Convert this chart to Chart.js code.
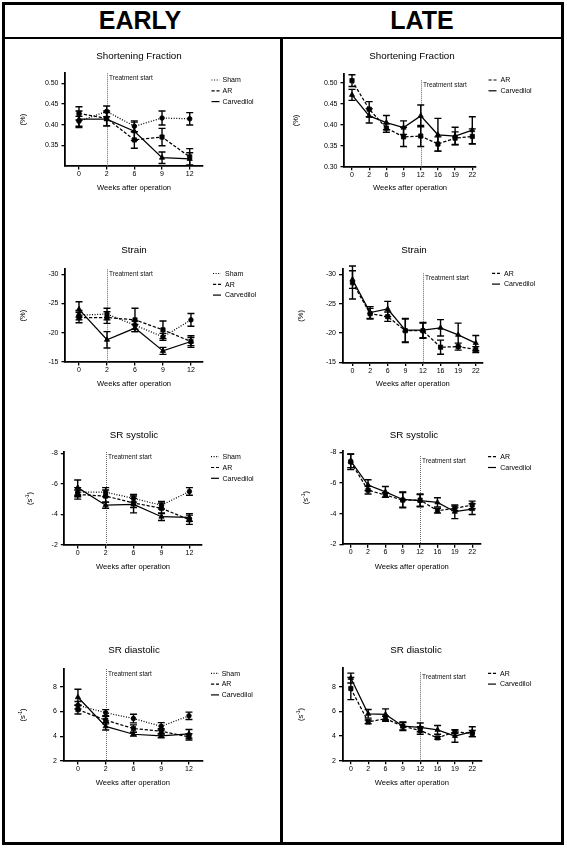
<!DOCTYPE html>
<html><head><meta charset="utf-8">
<script src="https://cdn.jsdelivr.net/npm/chart.js@4.4.1/dist/chart.umd.min.js"></script>
<style>
html,body{margin:0;padding:0;background:#fff;}
#page{position:relative;width:567px;height:848px;overflow:hidden;background:#fff;}
.frame{position:absolute;left:2px;top:2px;width:562px;height:843px;border:3px solid #000;box-sizing:border-box;}
.hline{position:absolute;left:2px;width:562px;top:37px;height:2px;background:#000;}
.vline{position:absolute;left:280px;top:38px;width:3px;height:807px;background:#000;}
.hdr{position:absolute;top:7px;font:bold 25px "Liberation Sans",Arial,sans-serif;text-align:center;width:200px;line-height:26px;color:#000;}
canvas{position:absolute;}
</style></head><body>
<div id="page">
 <div class="frame"></div><div class="hline"></div><div class="vline"></div>
 <div class="hdr" style="left:40px">EARLY</div><div class="hdr" style="left:322px">LATE</div>
</div>
<script>
// ---------- categories ----------
const earlyWeeks = ['0','2','6','9','12'];
const lateWeeks = ['0','2','6','9','12','16','19','22'];
const groupsEarly = ['Sham','AR','Carvedilol'];
const groupsLate = ['AR','Carvedilol'];

// ---------- tick labels ----------
const sfTicksEarly = [0.35, 0.40, 0.45, 0.50];
const sfTicksLate = [0.30, 0.35, 0.40, 0.45, 0.50];
const strainTicks = [-30, -25, -20, -15];
const srsTicks = [-8, -6, -4, -2];
const srdTicks = [2, 4, 6, 8];

// ---------- Shortening Fraction ----------
const sfEarlySham = [0.408, 0.432, 0.396, 0.416, 0.414];
const sfEarlyShamErr = [0.012, 0.013, 0.013, 0.017, 0.015];
const sfEarlyAR = [0.427, 0.415, 0.363, 0.370, 0.322];
const sfEarlyARErr = [0.016, 0.018, 0.020, 0.021, 0.020];
const sfEarlyCarv = [0.413, 0.413, 0.384, 0.320, 0.317];
const sfEarlyCarvErr = [0.020, 0.016, 0.022, 0.014, 0.015];
const sfLateAR = [0.505, 0.437, 0.392, 0.371, 0.373, 0.354, 0.368, 0.372];
const sfLateARErr = [0.014, 0.018, 0.010, 0.023, 0.025, 0.017, 0.015, 0.018];
const sfLateCarv = [0.471, 0.421, 0.405, 0.393, 0.421, 0.376, 0.373, 0.387];
const sfLateCarvErr = [0.013, 0.017, 0.017, 0.016, 0.026, 0.039, 0.021, 0.032];

// ---------- Strain ----------
const stEarlySham = [-23.0, -23.2, -21.3, -19.3, -22.2];
const stEarlyShamErr = [0.8, 1.0, 0.7, 0.6, 1.1];
const stEarlyAR = [-22.6, -22.6, -22.2, -20.5, -18.5];
const stEarlyARErr = [0.9, 1.0, 2.0, 1.5, 0.7];
const stEarlyCarv = [-24.0, -18.8, -20.8, -16.9, -18.5];
const stEarlyCarvErr = [1.3, 1.4, 0.6, 0.6, 1.0];
const stLateAR = [-28.6, -23.3, -22.8, -20.4, -20.4, -17.6, -17.7, -17.2];
const stLateARErr = [2.8, 0.9, 0.8, 2.0, 1.3, 1.2, 0.6, 0.5];
const stLateCarv = [-29.1, -23.5, -24.1, -20.5, -20.5, -20.9, -19.7, -18.3];
const stLateCarvErr = [1.5, 1.0, 1.3, 2.0, 1.3, 1.4, 2.0, 1.3];

// ---------- SR systolic ----------
const ssEarlySham = [-5.45, -5.45, -5.05, -4.6, -5.5];
const ssEarlyShamErr = [0.3, 0.3, 0.25, 0.25, 0.25];
const ssEarlyAR = [-5.3, -5.2, -4.75, -4.4, -3.65];
const ssEarlyARErr = [0.3, 0.4, 0.3, 0.35, 0.3];
const ssEarlyCarv = [-5.75, -4.6, -4.65, -3.85, -3.8];
const ssEarlyCarvErr = [0.5, 0.2, 0.55, 0.25, 0.25];
const ssLateAR = [-7.39, -5.54, -5.22, -4.89, -4.89, -4.2, -4.35, -4.57];
const ssLateARErr = [0.5, 0.25, 0.15, 0.5, 0.4, 0.15, 0.15, 0.25];
const ssLateCarv = [-7.46, -5.87, -5.43, -4.93, -4.85, -4.74, -4.13, -4.3];
const ssLateCarvErr = [0.45, 0.35, 0.35, 0.5, 0.4, 0.3, 0.45, 0.35];

// ---------- SR diastolic ----------
const sdEarlySham = [6.5, 5.9, 5.43, 4.8, 5.65];
const sdEarlyShamErr = [0.3, 0.25, 0.35, 0.3, 0.3];
const sdEarlyAR = [6.15, 5.3, 4.62, 4.4, 3.95];
const sdEarlyARErr = [0.35, 0.3, 0.3, 0.2, 0.25];
const sdEarlyCarv = [7.15, 4.8, 4.16, 4.03, 4.2];
const sdEarlyCarvErr = [0.65, 0.3, 0.15, 0.15, 0.35];
const sdLateAR = [7.85, 5.15, 5.4, 4.8, 4.45, 3.85, 4.35, 4.2];
const sdLateARErr = [0.9, 0.15, 0.2, 0.3, 0.3, 0.1, 0.15, 0.25];
const sdLateCarv = [8.7, 5.8, 5.75, 4.8, 4.7, 4.5, 4.0, 4.35];
const sdLateCarvErr = [0.4, 0.35, 0.45, 0.35, 0.35, 0.35, 0.5, 0.4];

// ---------- styles ----------
const FONT = '"Liberation Sans", Arial, Helvetica, sans-serif';
const dashes = { Sham: [1, 1.6], AR: [3.2, 1.8], Carvedilol: [] };
const pstyles = { Sham: 'circle', AR: 'rect', Carvedilol: 'triangle' };
const pradius = { Sham: 2.3, AR: 3.0, Carvedilol: 3.0 };

// ---------- panel layout (page coordinates) ----------
const panels = [
 {col:0, title:'Shortening Fraction', yt:'(%)', cats:earlyWeeks, groups:groupsEarly,
  vals:[sfEarlySham, sfEarlyAR, sfEarlyCarv], errs:[sfEarlyShamErr, sfEarlyARErr, sfEarlyCarvErr],
  ticks:sfTicksEarly, dec:2, yMin:0.30, yMax:0.524, rev:false, treat:1, treatOff:0,
  box:{l:65, t:73.3, r:203, b:166}, xMin:-0.505, xMax:4.48,
  titleX:139, titleY:56, ytX:23, xtY:188, legY:80, legX:211.5, legTX:222.5},
 {col:1, title:'Shortening Fraction', yt:'(%)', cats:lateWeeks, groups:groupsLate,
  vals:[sfLateAR, sfLateCarv], errs:[sfLateARErr, sfLateCarvErr],
  ticks:sfTicksLate, dec:2, yMin:0.30, yMax:0.52, rev:false, treat:4, treatOff:6,
  box:{l:344, t:74.3, r:476, b:166.7}, xMin:-0.465, xMax:7.215,
  titleX:412, titleY:56, ytX:296, xtY:188, legY:80, legX:488.5, legTX:500.5},
 {col:0, title:'Strain', yt:'(%)', cats:earlyWeeks, groups:groupsEarly,
  vals:[stEarlySham, stEarlyAR, stEarlyCarv], errs:[stEarlyShamErr, stEarlyARErr, stEarlyCarvErr],
  ticks:strainTicks, dec:0, yMin:-30.85, yMax:-15, rev:true, treat:1, treatOff:0,
  box:{l:65, t:269.3, r:203, b:362}, xMin:-0.5, xMax:4.43,
  titleX:134, titleY:250, ytX:23, xtY:384, legY:273.5, legX:213, legTX:225},
 {col:1, title:'Strain', yt:'(%)', cats:lateWeeks, groups:groupsLate,
  vals:[stLateAR, stLateCarv], errs:[stLateARErr, stLateCarvErr],
  ticks:strainTicks, dec:0, yMin:-30.85, yMax:-15, rev:true, treat:4, treatOff:4,
  box:{l:342.5, t:269.3, r:483, b:362.5}, xMin:-0.567, xMax:7.41,
  titleX:414, titleY:250, ytX:301, xtY:384, legY:273.3, legX:492, legTX:504},
 {col:0, title:'SR systolic', yt:'(s-1)', cats:earlyWeeks, groups:groupsEarly,
  vals:[ssEarlySham, ssEarlyAR, ssEarlyCarv], errs:[ssEarlyShamErr, ssEarlyARErr, ssEarlyCarvErr],
  ticks:srsTicks, dec:0, yMin:-8.08, yMax:-2, rev:true, treat:1, treatOff:0,
  box:{l:64.3, t:452, r:201.7, b:545}, xMin:-0.48, xMax:4.44,
  titleX:134, titleY:435, ytX:30, xtY:567, legY:456.7, legX:211, legTX:222.5},
 {col:1, title:'SR systolic', yt:'(s-1)', cats:lateWeeks, groups:groupsLate,
  vals:[ssLateAR, ssLateCarv], errs:[ssLateARErr, ssLateCarvErr],
  ticks:srsTicks, dec:0, yMin:-8.1, yMax:-2, rev:true, treat:4, treatOff:5,
  box:{l:343, t:451, r:480.5, b:544.3}, xMin:-0.443, xMax:7.48,
  titleX:414, titleY:435, ytX:306, xtY:567, legY:456.7, legX:488, legTX:500.3},
 {col:0, title:'SR diastolic', yt:'(s-1)', cats:earlyWeeks, groups:groupsEarly,
  vals:[sdEarlySham, sdEarlyAR, sdEarlyCarv], errs:[sdEarlyShamErr, sdEarlyARErr, sdEarlyCarvErr],
  ticks:srdTicks, dec:0, yMin:2, yMax:9.43, rev:false, treat:1, treatOff:0,
  box:{l:63.5, t:669, r:202.3, b:761}, xMin:-0.52, xMax:4.48,
  titleX:134, titleY:650, ytX:23, xtY:783, legY:673.3, legX:211, legTX:221.7},
 {col:1, title:'SR diastolic', yt:'(s-1)', cats:lateWeeks, groups:groupsLate,
  vals:[sdLateAR, sdLateCarv], errs:[sdLateARErr, sdLateCarvErr],
  ticks:srdTicks, dec:0, yMin:2, yMax:9.49, rev:false, treat:4, treatOff:4,
  box:{l:342.5, t:668.3, r:481.3, b:760.7}, xMin:-0.48, xMax:7.52,
  titleX:416, titleY:650, ytX:301, xtY:783, legY:673.3, legX:488, legTX:500}
];

function drawYTitle(ctx, text, x, y) {
  ctx.save();
  ctx.translate(x, y);
  ctx.rotate(-Math.PI / 2);
  ctx.fillStyle = '#000';
  ctx.textBaseline = 'middle';
  if (text === '(s-1)') {
    const f1 = '7.5px ' + FONT, f2 = '5px ' + FONT;
    ctx.font = f1; const w1 = ctx.measureText('(s').width; const w3 = ctx.measureText(')').width;
    ctx.font = f2; const w2 = ctx.measureText('-1').width;
    let sx = -(w1 + w2 + w3) / 2;
    ctx.textAlign = 'left';
    ctx.font = f1; ctx.fillText('(s', sx, 0); sx += w1;
    ctx.font = f2; ctx.fillText('-1', sx, -2.5); sx += w2;
    ctx.font = f1; ctx.fillText(')', sx, 0);
  } else {
    ctx.font = '7.5px ' + FONT;
    ctx.textAlign = 'center';
    ctx.fillText(text, 0, 0);
  }
  ctx.restore();
}

const page = document.getElementById('page');
panels.forEach((p, pi) => {
  const cLeft = p.col === 0 ? 5 : 284;
  const cW = p.col === 0 ? 274 : 277;
  const cTop = Math.floor(p.titleY - 12);
  const cH = Math.ceil(p.xtY + 10) - cTop;
  const cv = document.createElement('canvas');
  cv.width = cW; cv.height = cH;
  cv.style.left = cLeft + 'px'; cv.style.top = cTop + 'px';
  cv.style.width = cW + 'px'; cv.style.height = cH + 'px';
  page.appendChild(cv);

  const datasets = p.groups.map((g, gi) => ({
    label: g,
    data: p.vals[gi].map((v, i) => ({ x: i, y: v })),
    errs: p.errs[gi],
    borderColor: '#000', backgroundColor: '#000',
    borderWidth: 1.25, borderDash: dashes[g],
    pointStyle: pstyles[g], pointRadius: pradius[g], pointBorderWidth: 0.8,
    pointBackgroundColor: '#000', pointBorderColor: '#000',
    tension: 0, clip: false, fill: false
  }));

  const overlay = {
    id: 'overlay' + pi,
    beforeDatasetsDraw(chart) {
      const ctx = chart.ctx, xs = chart.scales.x, ys = chart.scales.y, ca = chart.chartArea;
      const tx = Math.round(xs.getPixelForValue(p.treat)) + 0.5;
      ctx.save();
      ctx.strokeStyle = '#6a6a6a'; ctx.lineWidth = 1; ctx.setLineDash([1, 1]);
      ctx.beginPath(); ctx.moveTo(tx, ca.top + p.treatOff); ctx.lineTo(tx, ca.bottom); ctx.stroke();
      ctx.setLineDash([]);
      ctx.fillStyle = '#111'; ctx.font = '6.5px ' + FONT; ctx.textAlign = 'left'; ctx.textBaseline = 'middle';
      ctx.fillText('Treatment start', tx + 1.5, ca.top + p.treatOff + 5);
      ctx.strokeStyle = '#000'; ctx.lineWidth = 1.4;
      chart.data.datasets.forEach(ds => {
        ds.data.forEach((pt, i) => {
          const e = ds.errs[i];
          const x = xs.getPixelForValue(pt.x);
          const y1 = ys.getPixelForValue(pt.y - e), y2 = ys.getPixelForValue(pt.y + e);
          ctx.beginPath();
          ctx.moveTo(x, y1); ctx.lineTo(x, y2);
          ctx.moveTo(x - 3.5, y1); ctx.lineTo(x + 3.5, y1);
          ctx.moveTo(x - 3.5, y2); ctx.lineTo(x + 3.5, y2);
          ctx.stroke();
        });
      });
      ctx.restore();
    },
    afterDraw(chart) {
      const ctx = chart.ctx, ca = chart.chartArea;
      ctx.save();
      ctx.fillStyle = '#000';
      ctx.font = '9.8px ' + FONT; ctx.textAlign = 'center'; ctx.textBaseline = 'middle';
      ctx.fillText(p.title, p.titleX - cLeft, p.titleY - cTop);
      ctx.font = '7.6px ' + FONT;
      ctx.fillText('Weeks after operation', (ca.left + ca.right) / 2, p.xtY - cTop);
      drawYTitle(ctx, p.yt, p.ytX - cLeft, (ca.top + ca.bottom) / 2);
      p.groups.forEach((g, gi) => {
        const y = p.legY - cTop + gi * 10.8;
        ctx.strokeStyle = '#000'; ctx.lineWidth = 1.2; ctx.setLineDash(dashes[g]);
        ctx.beginPath(); ctx.moveTo(p.legX - cLeft, y); ctx.lineTo(p.legX - cLeft + 8, y); ctx.stroke();
        ctx.setLineDash([]);
        ctx.font = '7px ' + FONT; ctx.textAlign = 'left'; ctx.textBaseline = 'middle';
        ctx.fillText(g, p.legTX - cLeft, y + 0.3);
      });
      ctx.restore();
    }
  };

  new Chart(cv, {
    type: 'line',
    data: { datasets },
    options: {
      responsive: false, animation: false, devicePixelRatio: 1,
      layout: { autoPadding: false, padding: { left: 0, top: p.box.t - cTop, right: cLeft + cW - p.box.r, bottom: 0 } },
      plugins: { legend: { display: false }, title: { display: false }, tooltip: { enabled: false } },
      scales: {
        x: {
          type: 'linear', position: 'bottom', min: p.xMin, max: p.xMax,
          afterFit(s) { s.height = cTop + cH - p.box.b; },
          afterBuildTicks(s) { s.ticks = p.cats.map((c, i) => ({ value: i })); },
          ticks: { callback: (v) => p.cats[v], font: { family: FONT, size: 7 }, color: '#000', padding: 0.5, maxRotation: 0, autoSkip: false },
          grid: { display: true, drawOnChartArea: false, drawTicks: true, tickLength: 3.5, color: '#000', lineWidth: 1.3 },
          border: { display: true, color: '#000', width: 1.8 }
        },
        y: {
          type: 'linear', position: 'left', min: p.yMin, max: p.yMax, reverse: p.rev,
          afterFit(s) { s.width = p.box.l - cLeft; },
          afterBuildTicks(s) { s.ticks = p.ticks.map(v => ({ value: v })); },
          ticks: { callback: (v) => Number(v).toFixed(p.dec), font: { family: FONT, size: 7 }, color: '#000', padding: 3 },
          grid: { display: true, drawOnChartArea: false, drawTicks: true, tickLength: 3.5, color: '#000', lineWidth: 1.3 },
          border: { display: true, color: '#000', width: 1.8 }
        }
      }
    },
    plugins: [overlay]
  });
});
</script>
</body></html>
